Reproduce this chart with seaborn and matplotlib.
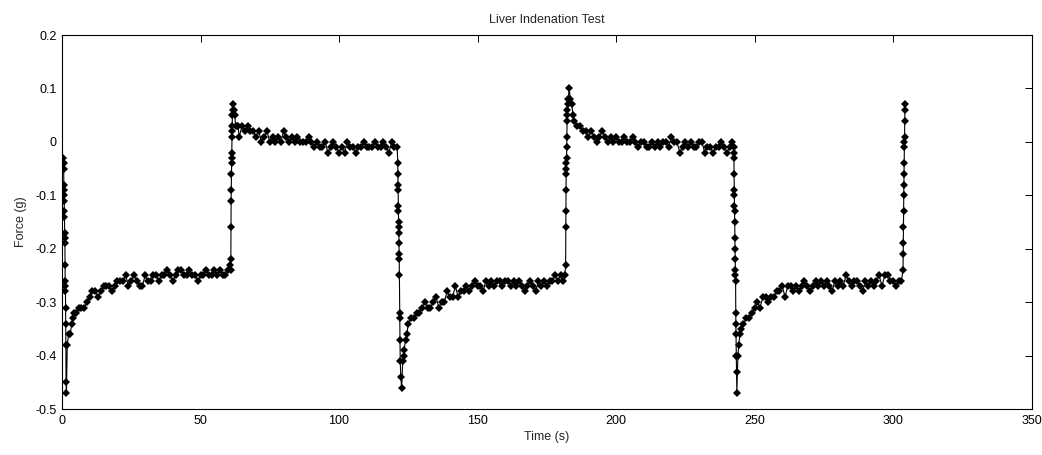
import pandas as pd
import matplotlib
matplotlib.use('Agg')
import matplotlib.pyplot as plt
import seaborn as sns

# Time (s) and force (g), segment by segment

# initial indentation drop
t_drop0 = [0.5, 0.55, 0.6, 0.65, 0.7, 0.75, 0.8, 0.85, 0.9, 0.95, 1.0, 1.05, 1.1,
           1.15, 1.2, 1.25, 1.3, 1.35, 1.4, 1.45, 1.6]
f_drop0 = [-0.03, -0.04, -0.05, -0.08, -0.09, -0.10, -0.11, -0.13, -0.14, -0.17, -0.18,
           -0.19, -0.23, -0.26, -0.27, -0.28, -0.31, -0.34, -0.38, -0.45, -0.47]

# relaxation 1
t_hold1 = [1.9, 2.4, 3.0, 3.5, 4.0, 4.5, 5, 6, 7, 8, 9, 10, 11, 12, 13, 14, 15, 16, 17, 18,
           19, 20, 21, 22, 23, 24, 25, 26, 27, 28, 29, 30, 31, 32, 33, 34, 35, 36, 37, 38,
           39, 40, 41, 42, 43, 44, 45, 46, 47, 48, 49, 50, 51, 52, 53, 54, 55, 56, 57, 58,
           59, 60, 60.5]
f_hold1 = [-0.38, -0.36, -0.36, -0.34, -0.33, -0.32, -0.32, -0.31, -0.31, -0.31, -0.30,
           -0.29, -0.28, -0.28, -0.29, -0.28, -0.27, -0.27, -0.27, -0.28, -0.27, -0.26,
           -0.26, -0.26, -0.25, -0.27, -0.26, -0.25, -0.26, -0.27, -0.27, -0.25, -0.26,
           -0.26, -0.25, -0.25, -0.26, -0.25, -0.25, -0.24, -0.25, -0.26, -0.25, -0.24,
           -0.24, -0.25, -0.25, -0.24, -0.25, -0.25, -0.26, -0.25, -0.25, -0.24, -0.25,
           -0.25, -0.24, -0.25, -0.24, -0.25, -0.25, -0.24, -0.23]

# unload 1
t_up1 = [60.9, 60.95, 61.0, 61.05, 61.1, 61.15, 61.2, 61.25, 61.3, 61.35, 61.4, 61.45,
         61.5, 61.6, 61.7]
f_up1 = [-0.24, -0.22, -0.16, -0.11, -0.09, -0.06, -0.04, -0.03, -0.02, 0.01, 0.02, 0.03,
         0.05, 0.06, 0.07]

# rest 1
t_rest1 = [62.0, 62.3, 62.7, 63, 63.5, 64, 65, 66, 67, 68, 69, 70, 71, 72, 73, 74, 75, 76,
           77, 78, 79, 80, 81, 82, 83, 84, 85, 86, 87, 88, 89, 90, 91, 92, 93, 94, 95, 96,
           97, 98, 99, 100, 101, 102, 103, 104, 105, 106, 107, 108, 109, 110, 111, 112,
           113, 114, 115, 116, 117, 118, 119, 120, 121]
f_rest1 = [0.06, 0.05, 0.03, 0.03, 0.03, 0.01, 0.03, 0.02, 0.03, 0.02, 0.02, 0.01, 0.02,
           0.00, 0.01, 0.02, 0.00, 0.01, 0.00, 0.01, 0.00, 0.02, 0.01, 0.00, 0.01, 0.00,
           0.01, 0.00, 0.00, 0.00, 0.01, 0.00, -0.01, 0.00, -0.01, -0.01, 0.00, -0.02,
           -0.01, 0.00, -0.01, -0.02, -0.01, -0.02, 0.00, -0.01, -0.01, -0.02, -0.01,
           -0.01, 0.00, -0.01, -0.01, -0.01, 0.00, -0.01, -0.01, 0.00, -0.01, -0.02, 0.00,
           -0.01, -0.01]

# indentation 2
t_drop2 = [121.2, 121.25, 121.3, 121.35, 121.4, 121.45, 121.5, 121.55, 121.6, 121.65,
           121.7, 121.75, 121.8, 121.9, 121.95, 122.0, 122.1, 122.3, 122.6]
f_drop2 = [-0.04, -0.06, -0.08, -0.09, -0.12, -0.13, -0.15, -0.16, -0.17, -0.19, -0.21,
           -0.22, -0.25, -0.32, -0.33, -0.37, -0.41, -0.44, -0.46]

# relaxation 2
t_hold2 = [123, 123.3, 123.5, 124, 124.5, 125, 126, 127, 128, 129, 130, 131, 132, 133, 134,
           135, 136, 137, 138, 139, 140, 141, 142, 143, 144, 145, 146, 147, 148, 149, 150,
           151, 152, 153, 154, 155, 156, 157, 158, 159, 160, 161, 162, 163, 164, 165, 166,
           167, 168, 169, 170, 171, 172, 173, 174, 175, 176, 177, 178, 179, 180, 181, 181.5]
f_hold2 = [-0.41, -0.40, -0.39, -0.37, -0.36, -0.34, -0.33, -0.33, -0.32, -0.32, -0.31,
           -0.30, -0.31, -0.31, -0.30, -0.29, -0.31, -0.30, -0.30, -0.28, -0.29, -0.29,
           -0.27, -0.29, -0.28, -0.28, -0.27, -0.28, -0.27, -0.26, -0.27, -0.27, -0.28,
           -0.26, -0.27, -0.26, -0.27, -0.26, -0.26, -0.27, -0.26, -0.26, -0.27, -0.26,
           -0.27, -0.26, -0.27, -0.28, -0.27, -0.26, -0.27, -0.28, -0.26, -0.27, -0.26,
           -0.27, -0.26, -0.26, -0.25, -0.26, -0.25, -0.26, -0.25]

# unload 2
t_up2 = [181.8, 181.85, 181.9, 181.95, 182.0, 182.05, 182.1, 182.15, 182.2, 182.25, 182.3,
         182.35, 182.45, 182.55, 182.7, 183.1]
f_up2 = [-0.23, -0.16, -0.13, -0.09, -0.06, -0.05, -0.04, -0.03, -0.01, 0.01, 0.04, 0.05,
         0.06, 0.07, 0.08, 0.10]

# rest 2
t_rest2 = [183.5, 184, 184.5, 185, 186, 187, 188, 189, 190, 191, 192, 193, 194, 195, 196,
           197, 198, 199, 200, 201, 202, 203, 204, 205, 206, 207, 208, 209, 210, 211, 212,
           213, 214, 215, 216, 217, 218, 219, 220, 221, 222, 223, 224, 225, 226, 227, 228,
           229, 230, 231, 232, 233, 234, 235, 236, 237, 238, 239, 240, 241, 242]
f_rest2 = [0.08, 0.07, 0.05, 0.04, 0.03, 0.03, 0.02, 0.02, 0.01, 0.02, 0.01, 0.00, 0.01,
           0.02, 0.01, 0.00, 0.01, 0.00, 0.01, 0.00, 0.00, 0.01, 0.00, 0.00, 0.01, 0.00,
           -0.01, 0.00, 0.00, -0.01, -0.01, 0.00, -0.01, 0.00, -0.01, 0.00, 0.00, -0.01,
           0.01, 0.00, 0.00, -0.02, -0.01, 0.00, -0.01, 0.00, -0.01, -0.01, 0.00, 0.00,
           -0.02, -0.01, -0.01, -0.02, -0.01, -0.01, 0.00, -0.01, -0.02, -0.01, 0.00]

# indentation 3
t_drop3 = [242.45, 242.5, 242.55, 242.6, 242.65, 242.7, 242.75, 242.8, 242.85, 242.9,
           242.95, 243.0, 243.05, 243.1, 243.15, 243.2, 243.25, 243.3, 243.4, 243.5, 243.6]
f_drop3 = [-0.01, -0.02, -0.03, -0.06, -0.09, -0.10, -0.12, -0.13, -0.15, -0.18, -0.20,
           -0.22, -0.24, -0.25, -0.26, -0.32, -0.34, -0.36, -0.40, -0.43, -0.47]

# relaxation 3
t_hold3 = [244, 244.3, 244.7, 245, 246, 247, 248, 249, 250, 251, 252, 253, 254, 255, 256,
           257, 258, 259, 260, 261, 262, 263, 264, 265, 266, 267, 268, 269, 270, 271, 272,
           273, 274, 275, 276, 277, 278, 279, 280, 281, 282, 283, 284, 285, 286, 287, 288,
           289, 290, 291, 292, 293, 294, 295, 296, 297, 298, 299, 300, 301, 302, 303]
f_hold3 = [-0.40, -0.38, -0.36, -0.35, -0.34, -0.33, -0.33, -0.32, -0.31, -0.30, -0.31,
           -0.29, -0.29, -0.30, -0.29, -0.29, -0.28, -0.28, -0.27, -0.29, -0.27, -0.27,
           -0.28, -0.27, -0.28, -0.27, -0.26, -0.27, -0.28, -0.27, -0.26, -0.27, -0.26,
           -0.27, -0.26, -0.27, -0.28, -0.26, -0.27, -0.26, -0.27, -0.25, -0.26, -0.27,
           -0.26, -0.26, -0.27, -0.28, -0.26, -0.27, -0.26, -0.27, -0.26, -0.25, -0.27,
           -0.25, -0.25, -0.26, -0.26, -0.27, -0.26, -0.26]

# unload 3
t_up3 = [303.6, 303.65, 303.7, 303.75, 303.8, 303.85, 303.9, 303.95, 304.0, 304.05, 304.1,
         304.15, 304.2, 304.25, 304.3]
f_up3 = [-0.24, -0.21, -0.19, -0.16, -0.13, -0.10, -0.08, -0.06, -0.04, -0.01, 0.00, 0.01,
         0.04, 0.06, 0.07]

x_ticks = [0, 50, 100, 150, 200, 250, 300, 350]
y_ticks = [-0.5, -0.4, -0.3, -0.2, -0.1, 0, 0.1, 0.2]
y_tick_labels = ['-0.5', '-0.4', '-0.3', '-0.2', '-0.1', '0', '0.1', '0.2']

times = (t_drop0 + t_hold1 + t_up1 + t_rest1 + t_drop2 + t_hold2 + t_up2 + t_rest2
         + t_drop3 + t_hold3 + t_up3)
forces = (f_drop0 + f_hold1 + f_up1 + f_rest1 + f_drop2 + f_hold2 + f_up2 + f_rest2
          + f_drop3 + f_hold3 + f_up3)
df = pd.DataFrame({'Time': times, 'Force': forces})

sns.set_style('white')
plt.rcParams['font.family'] = ['Liberation Sans', 'DejaVu Sans']

fig = plt.figure(figsize=(10.42, 4.55), dpi=100)
ax = fig.add_axes([0.0595, 0.101, 0.9305, 0.822])

sns.lineplot(data=df, x='Time', y='Force', sort=False, estimator=None, color='black',
             linewidth=0.8, marker='D', markersize=3.8, markeredgewidth=0, ax=ax)

ax.set_xlim(0, 350)
ax.set_ylim(-0.5, 0.2)
ax.set_xticks(x_ticks)
ax.set_xticklabels([str(v) for v in x_ticks])
ax.set_yticks(y_ticks)
ax.set_yticklabels(y_tick_labels)
ax.tick_params(direction='in', top=True, right=True, length=5, width=0.7,
               labelsize=9, colors='black', pad=4)
for side in ax.spines.values():
    side.set_visible(True)
    side.set_color('black')
    side.set_linewidth(0.8)

ax.set_title('Liver Indenation Test', fontsize=9, pad=9)
ax.set_xlabel('Time (s)', fontsize=9, labelpad=3)
ax.set_ylabel('Force (g)', fontsize=9, labelpad=6)

fig.savefig('out.png', dpi=100, facecolor='white')
